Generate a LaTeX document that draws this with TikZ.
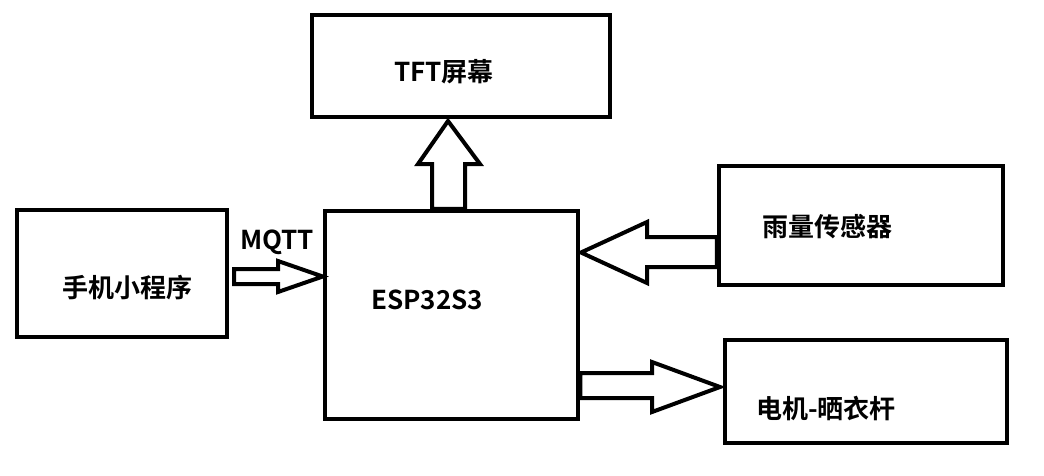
\documentclass[tikz,border=0pt]{standalone}
\usepackage{fontspec}
\setmainfont{Noto Sans CJK SC}[BoldFont={Noto Sans CJK SC Bold}]
\begin{document}
\begin{tikzpicture}[x=1pt,y=-1pt,
  box/.style={draw,line width=4.5pt,minimum width=#1},
  blk/.style={draw,line width=4pt,fill=white,line join=miter},
  lbl/.style={font=\fontsize{26}{30}\selectfont\bfseries,inner sep=0pt}]
\useasboundingbox[fill=white] (0,0) rectangle (1044,475);
% boxes
\node[box=298pt,minimum height=102pt] (tft) at (461,66) {};
\node[box=284pt,minimum height=119pt] (rain) at (861,225.5) {};
\node[box=210pt,minimum height=127pt] (phone) at (122,273.5) {};
\node[box=253pt,minimum height=208pt] (esp) at (451.5,315) {};
\node[box=282pt,minimum height=103pt] (motor) at (866,391.5) {};
% labels
\node[lbl] (tftL) at (444,72) {TFT屏幕};
\node[lbl] (rainL) at (827,227) {雨量传感器};
\node[lbl] (phoneL) at (127,288) {手机小程序};
\node[lbl] (mqtt) at (277,242) {MQTT};
\node[lbl] (espL) at (427,300) {ESP32S3};
\node[lbl] (motorL) at (826,408) {电机-晒衣杆};
% block arrows
% esp -> tft
\draw[blk] (432,0 |- esp.north) -- (432,164) -- (418,164) -- (448,121) -- (480,164) -- (465,164) -- (465,0 |- esp.north) -- cycle;
% phone -> esp (MQTT)
\draw[blk] (234,269) -- (278,269) -- (278,261) -- (esp.west |- 0,276.5) -- (278,292) -- (278,284) -- (234,284) -- cycle;
% rain -> esp
\draw[blk] (rain.west |- 0,237) -- (647,237) -- (647,222) -- (581,252.5) -- (647,283) -- (647,267) -- (rain.west |- 0,267) -- cycle;
% esp -> motor
\draw[blk] (esp.east |- 0,373) -- (652,373) -- (652,362) -- (720,387) -- (652,412) -- (652,398) -- (esp.east |- 0,398) -- cycle;
\end{tikzpicture}
\end{document}
